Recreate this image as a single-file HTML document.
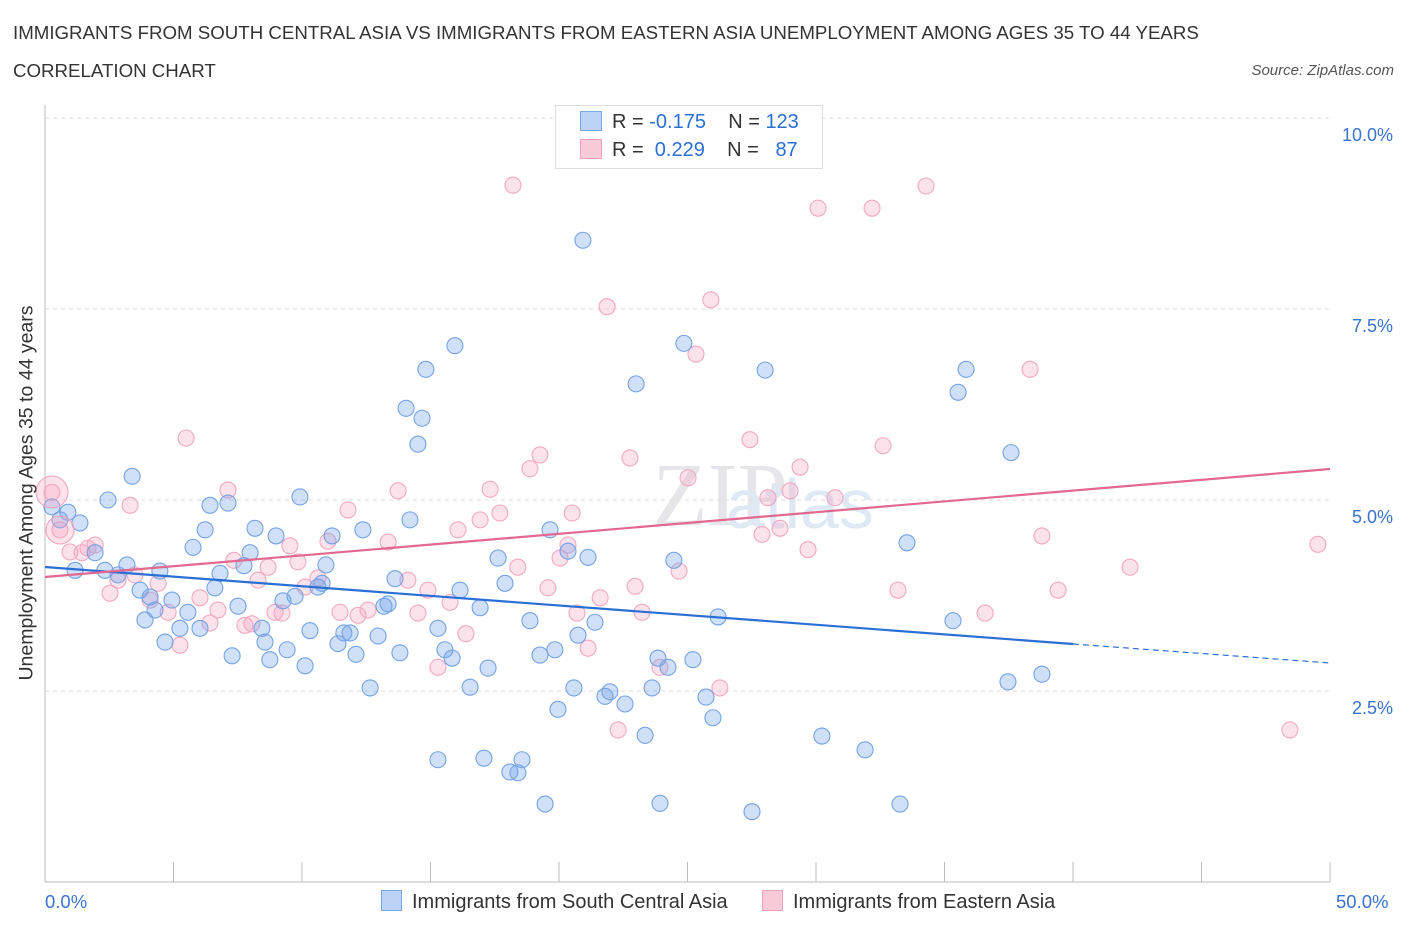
<!DOCTYPE html>
<html><head><meta charset="utf-8"><style>
body{margin:0;background:#fff;font-family:"Liberation Sans",sans-serif;}
#wrap{position:relative;width:1406px;height:930px;overflow:hidden;}
.t{position:absolute;white-space:nowrap;}
</style></head><body>
<div id="wrap">
<div class="t" style="left:13px;top:22px;font-size:18.7px;color:#333;">IMMIGRANTS FROM SOUTH CENTRAL ASIA VS IMMIGRANTS FROM EASTERN ASIA UNEMPLOYMENT AMONG AGES 35 TO 44 YEARS</div>
<div class="t" style="left:13px;top:60px;font-size:18.7px;color:#333;">CORRELATION CHART</div>
<div class="t" style="right:12px;top:62px;font-size:15px;color:#555;font-style:italic;">Source: ZipAtlas.com</div>
<svg id="svg" width="1406" height="930" style="position:absolute;left:0;top:0"></svg>
</div>
<script>
const blueX=[52,60,68,80,75,95,108,105,127,132,118,140,145,150,155,165,172,180,188,160,193,200,205,210,215,220,228,232,238,244,250,255,262,265,270,276,283,287,295,300,305,310,318,322,326,332,338,344,350,363,370,378,356,384,388,395,400,406,410,422,418,426,438,445,452,455,460,470,480,484,488,498,505,510,518,522,530,540,545,550,555,558,568,574,578,583,588,595,605,610,625,636,645,652,658,660,668,674,684,693,706,713,718,752,765,822,865,900,907,953,958,966,1008,1011,1042,438];
const blueY=[507,520,512,523,570,553,500,570,565,476,575,590,620,597,610,642,600,628,612,571,547,628,530,505,588,573,503,656,606,566,553,528,628,642,660,536,601,650,596,497,666,631,587,583,565,536,644,633,633,530,688,636,654,606,604,579,653,408,520,418,444,369,628,650,658,346,590,687,608,758,668,558,583,772,773,760,621,655,804,530,650,709,551,688,635,240,557,622,696,692,704,384,735,688,658,803,667,560,343,660,697,718,617,812,370,736,750,804,543,621,392,369,682,453,674,760];
const pinkX=[52,60,70,82,88,95,110,118,130,135,150,158,168,180,186,200,210,218,228,234,245,252,258,268,275,282,290,298,305,318,328,340,348,358,368,388,398,408,418,428,438,450,458,466,480,490,500,513,518,530,540,548,560,568,572,577,588,600,607,618,630,635,642,660,679,688,696,711,720,750,762,768,780,790,800,808,818,835,872,883,898,926,985,1030,1042,1058,1130,1290,1318];
const pinkY=[492,530,552,553,548,545,593,580,505,575,600,583,612,645,438,598,623,610,490,560,625,624,580,567,612,613,546,562,587,578,541,612,510,615,610,542,491,580,613,590,667,602,530,634,520,489,513,185,567,469,455,588,558,545,513,613,648,598,307,730,458,586,612,667,571,478,354,300,688,440,534,498,528,491,467,550,208,498,208,446,590,186,613,369,536,590,567,730,544];
const blueXv=blueX.map(p=>+((p-45)/1285*50).toFixed(2)), blueYv=blueY.map(p=>+((882-p)/76.4).toFixed(2));
const pinkXv=pinkX.map(p=>+((p-45)/1285*50).toFixed(2)), pinkYv=pinkY.map(p=>+((882-p)/76.4).toFixed(2));
const yTicks=[2.5,5,7.5,10], yTickLabels=["2.5%","5.0%","7.5%","10.0%"];
const X=v=>45+v/50*1285, Y=v=>882-v*76.4;
const svg=document.getElementById('svg');const NS='http://www.w3.org/2000/svg';
function el(t,a){const e=document.createElementNS(NS,t);for(const k in a)e.setAttribute(k,a[k]);svg.appendChild(e);return e;}
let w=el('text',{x:720,y:525,'font-size':90,'text-anchor':'middle',fill:'#e6e6ea','font-family':'Liberation Serif'});w.textContent='ZIP';

let w2=el('text',{x:800,y:528,'font-size':70,'text-anchor':'middle',fill:'#dfe8f5','font-family':'Liberation Sans'});w2.textContent='atlas';

yTicks.forEach((v,i)=>{let g=el('line',{x1:45,x2:1330,y1:Y(v),y2:Y(v),stroke:'#ddd','stroke-dasharray':'4,4'});

let t=el('text',{x:1393,y:Y(v)+23,'font-size':18,'text-anchor':'end',fill:'#3a73d0'});t.textContent=yTickLabels[i];
});
el('line',{x1:45,x2:45,y1:105,y2:882,stroke:'#bbb'});
el('line',{x1:45,x2:1330,y1:882,y2:882,stroke:'#bbb'});
for(let i=0;i<=10;i++){let tk=el('line',{x1:X(i*5),x2:X(i*5),y1:862,y2:882,stroke:'#bbb'});}
function pts(xs,ys,fill,stroke,name){xs.forEach((x,i)=>{let c=el('circle',{cx:X(x),cy:Y(ys[i]),r:8,fill:fill,stroke:stroke,'stroke-width':1.1});
});}
pts(pinkXv,pinkYv,'rgba(244,160,190,0.3)','#f2a8c0','point-eastern-asia');
pts(blueXv,blueYv,'rgba(110,160,235,0.33)','#75a3e4','point-south-central-asia');
el('circle',{cx:52,cy:492,r:16,fill:'rgba(244,160,190,0.3)',stroke:'#f0a0ba'});
el('circle',{cx:60,cy:530,r:14,fill:'rgba(244,160,190,0.3)',stroke:'#f0a0ba'});
let bl=el('line',{x1:45,y1:567,x2:1073,y2:644,stroke:'#2a6fd6','stroke-width':2.2});
el('line',{x1:1073,y1:644,x2:1330,y2:663,stroke:'#2a6fd6','stroke-width':1.2,'stroke-dasharray':'6,4'});
let pl=el('line',{x1:45,y1:577,x2:1330,y2:469,stroke:'#e2688f','stroke-width':2.2});
</script>
<div class="t" style="left:555px;top:105px;width:266px;height:62px;border:1px solid #ddd;background:#fff;"></div>
<div class="t" style="left:580px;top:111px;font-size:20px;color:#333;"><span style="display:inline-block;width:20px;height:18px;background:#bcd3f5;border:1px solid #7aa5e6;vertical-align:-3px;margin-right:10px"></span>R = <span style="color:#2a6fd6">-0.175</span>&nbsp;&nbsp;&nbsp; N = <span style="color:#2a6fd6">123</span></div>
<div class="t" style="left:580px;top:139px;font-size:20px;color:#333;"><span style="display:inline-block;width:20px;height:18px;background:#f9cbd9;border:1px solid #f0a0ba;vertical-align:-3px;margin-right:10px"></span>R = &nbsp;<span style="color:#2a6fd6">0.229</span>&nbsp;&nbsp;&nbsp; N = &nbsp;&nbsp;<span style="color:#2a6fd6">87</span></div>
<div class="t" style="left:27px;top:493px;font-size:19.5px;color:#333;transform:translate(-50%,-50%) rotate(-90deg);">Unemployment Among Ages 35 to 44 years</div>
<div class="t" style="left:45px;top:891px;font-size:18.5px;color:#3a73d0;">0.0%</div>
<div class="t" style="left:1336px;top:891px;font-size:18.5px;color:#3a73d0;">50.0%</div>
<div class="t" style="left:381px;top:890px;font-size:20px;color:#333;"><span style="display:inline-block;width:19px;height:19px;background:#bcd3f5;border:1px solid #7aa5e6;vertical-align:-3px;margin-right:10px"></span>Immigrants from South Central Asia</div>
<div class="t" style="left:762px;top:890px;font-size:20px;color:#333;"><span style="display:inline-block;width:19px;height:19px;background:#f9cbd9;border:1px solid #f0a0ba;vertical-align:-3px;margin-right:10px"></span>Immigrants from Eastern Asia</div>
</body></html>
